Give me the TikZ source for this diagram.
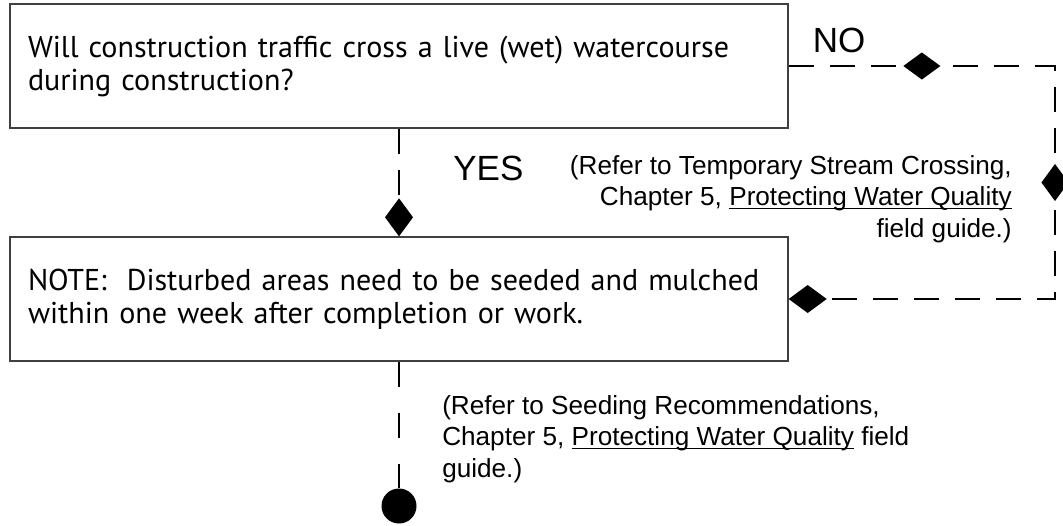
\documentclass[tikz,border=0pt]{standalone}
\usepackage{fontspec}
\setmainfont{Liberation Sans}
\newfontfamily\boxfont{PT Sans}
\usepackage{tikz}
\usetikzlibrary{shapes,arrows,arrows.meta,positioning}
\newcommand{\ulsub}[1]{\setbox0\hbox{#1}\rlap{\rule[-2.6pt]{\wd0}{0.8pt}}\box0\relax}
\tikzstyle{block} = [rectangle, draw=black!75, line width=1pt,
    text width=18.55cm, inner sep=0.45cm, minimum height=3.1cm, align=left,
    font=\boxfont\fontsize{21.4}{23.5}\selectfont]
\tikzstyle{line} = [draw, line width=1.6pt, dash pattern=on 0.625cm off 0.4cm,
    -{Diamond[length=0.95cm,width=0.7cm]}]
\tikzstyle{diam} = [diamond, fill, draw=none, inner sep=0pt, anchor=center,
    minimum width=0.95cm, minimum height=0.7cm, sloped]
\tikzstyle{stop} = [circle, fill, inner sep=0pt, minimum size=0.875cm]
\tikzstyle{answer} = [font=\fontsize{24.9}{28}\selectfont]
\tikzstyle{note} = [inner sep=0pt, font=\fontsize{18.6}{22.4}\selectfont]

\begin{document}
\begin{tikzpicture}[node distance = 5.825cm]
\useasboundingbox (0,0) rectangle (26.575,-13.125);
\node[block] (Q_cross) at (9.975,-1.65) {\mbox{Will construction traffic cross a live (wet) watercourse}\\during construction?};
\node[block, below of = Q_cross] (N_seed) {\mbox{NOTE:~ Disturbed areas need to be seeded and mulched}\\within one week after completion or work.};
\node[stop, below of = N_seed, node distance = 5.175cm] (E_done) {};
\coordinate[right of = Q_cross, node distance = 16.4cm] (aux_NE);
\coordinate[right of = N_seed, node distance = 16.4cm] (aux_SE);
\path (Q_cross) edge[line] (N_seed);
\path[line] (Q_cross) -- node[diam]{} (aux_NE) -- node[diam]{} (aux_SE) -- (N_seed);
\path (N_seed) edge[line, -, dash pattern=on 0.625cm off 0.65cm] (E_done);
%Answers:
\node[answer] (L_no) at (20.975,-1.0) {NO};
\node[answer] (L_yes) at (12.21,-4.21) {YES};
%Notes:
\node[note, anchor=north east, align=right] (R_stream) at (25.3,-3.875) {(Refer to Temporary Stream Crossing,\\Chapter 5, \ulsub{Protecting Water Quality}\\field guide.)};
\node[note, anchor=north west, align=left] (R_seed) at (11.05,-9.875) {(Refer to Seeding Recommendations,\\Chapter 5, \ulsub{Protecting Water Quality} field\\guide.)};
\end{tikzpicture}
\end{document}
